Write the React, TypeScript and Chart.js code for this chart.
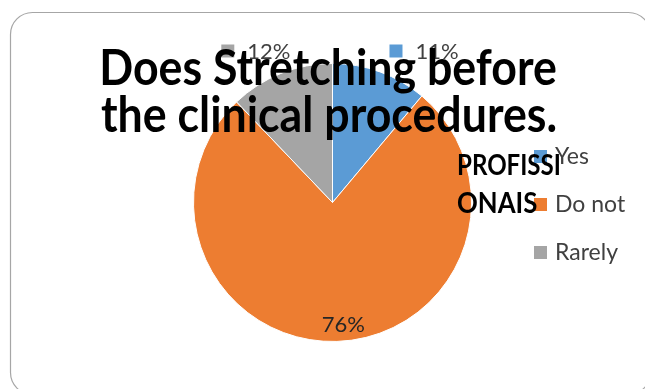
import React, { useEffect, useRef } from "react";
import { Chart, registerables } from "chart.js";

Chart.register(...registerables);

const categories = ["Yes", "Do not", "Rarely"];
const values = [11, 76, 12];
const percentLabels = ["11%", "76%", "12%"];
const titleLines = ["Does Stretching before", "the clinical procedures."];
const seriesNameLines = ["PROFISSI", "ONAIS"];
const colors = ["#5B9BD5", "#ED7D31", "#A5A5A5"];

const FONT = "Lato, 'Open Sans', 'Liberation Sans', sans-serif";

function scaledText(ctx: any, text: string, x: number, y: number, sx: number, sy: number) {
  ctx.save();
  ctx.translate(x, y);
  ctx.scale(sx, sy);
  ctx.fillText(text, 0, 0);
  ctx.restore();
}

const overlayPlugin = {
  id: "overlay",
  beforeDraw(chart: any) {
    const ctx = chart.ctx;
    ctx.save();
    ctx.fillStyle = "#ffffff";
    ctx.fillRect(0, 0, chart.width, chart.height);
    ctx.beginPath();
    (ctx as any).roundRect(10.5, 12.5, 640, 382, 22);
    ctx.strokeStyle = "#a6a6a6";
    ctx.lineWidth = 1.2;
    ctx.stroke();
    ctx.restore();
  },
  afterDatasetsDraw(chart: any) {
    const ctx = chart.ctx;
    const meta = chart.getDatasetMeta(0);
    ctx.save();
    ctx.font = `22px ${FONT}`;
    ctx.textBaseline = "middle";
    meta.data.forEach((arc: any, i: number) => {
      const { x, y, startAngle, endAngle, outerRadius } = arc.getProps(
        ["x", "y", "startAngle", "endAngle", "outerRadius"],
        true
      );
      const mid = (startAngle + endAngle) / 2;
      const text = percentLabels[i];
      if (i === 1) {
        const lx = x + Math.cos(mid) * outerRadius * 0.88 + 7;
        const ly = y + Math.sin(mid) * outerRadius * 0.88;
        ctx.fillStyle = "#262626";
        ctx.textAlign = "center";
        ctx.fillText(text, lx, ly);
      } else {
        const side = Math.cos(mid) >= 0 ? 1 : -1;
        const lx = side > 0 ? x + outerRadius * 0.41 : x - outerRadius * 0.8;
        const ly = y - outerRadius - 13;
        ctx.fillStyle = colors[i];
        ctx.fillRect(lx, ly - 6, 13, 13);
        ctx.fillStyle = "#404040";
        ctx.textAlign = "left";
        ctx.fillText(text, lx + 26, ly + 1);
      }
    });
    ctx.restore();
  },
  afterDraw(chart: any) {
    const ctx = chart.ctx;
    ctx.save();
    // legend
    const lgX = 534;
    const lgY = [156, 204, 252];
    ctx.font = `23px ${FONT}`;
    ctx.textBaseline = "middle";
    ctx.textAlign = "left";
    categories.forEach((c, i) => {
      ctx.fillStyle = colors[i];
      ctx.fillRect(lgX, lgY[i] - 6, 13, 13);
      ctx.fillStyle = "#404040";
      ctx.fillText(c, lgX + 21, lgY[i] + 1);
    });
    // series name
    ctx.font = `bold 28px ${FONT}`;
    ctx.fillStyle = "#000000";
    ctx.textBaseline = "alphabetic";
    scaledText(ctx, seriesNameLines[0], 457, 175, 0.86, 1);
    scaledText(ctx, seriesNameLines[1], 457, 213, 0.92, 1);
    // title
    ctx.font = `bold 42px ${FONT}`;
    const w = ctx.measureText(titleLines[0]).width;
    const size = (42 * 458) / w;
    ctx.font = `bold ${size.toFixed(1)}px ${FONT}`;
    ctx.textAlign = "center";
    ctx.fillStyle = "#000000";
    scaledText(ctx, titleLines[0], 328, 85, 1, 1.1);
    scaledText(ctx, titleLines[1], 329, 132, 1, 1.1);
    ctx.restore();
  },
};

export default function App() {
  const ref = useRef<HTMLCanvasElement | null>(null);
  useEffect(() => {
    if (!ref.current) return;
    const chart = new Chart(ref.current, {
      type: "pie",
      data: {
        labels: categories,
        datasets: [
          {
            data: values,
            backgroundColor: colors,
            borderColor: "#ffffff",
            borderWidth: 1,
          },
        ],
      },
      options: {
        animation: false,
        responsive: false,
        maintainAspectRatio: false,
        layout: { padding: { left: 193, right: 173, top: 63, bottom: 47 } },
        plugins: {
          legend: { display: false },
          title: { display: false },
          tooltip: { enabled: false },
        },
      },
      plugins: [overlayPlugin],
    });
    return () => chart.destroy();
  }, []);
  return (
    <div style={{ position: "absolute", left: 0, top: 0, width: 645, height: 389 }}>
      <canvas ref={ref} width={645} height={389} style={{ width: 645, height: 389 }} />
    </div>
  );
}
